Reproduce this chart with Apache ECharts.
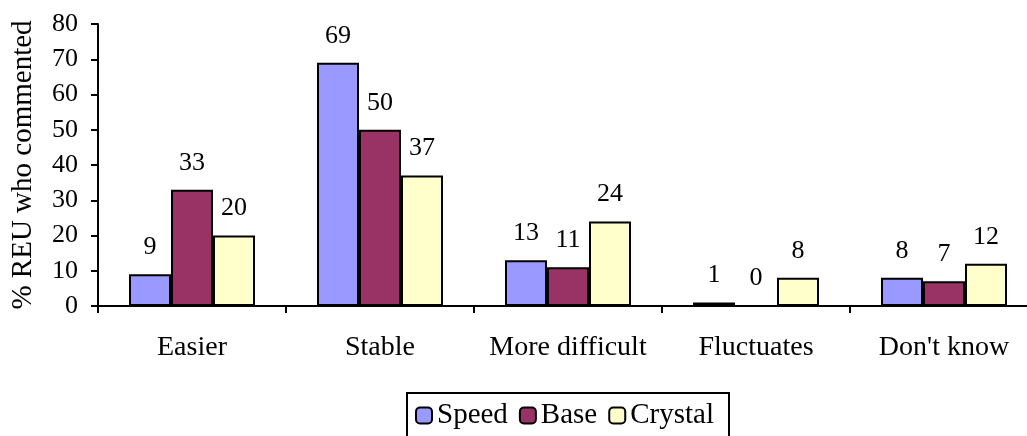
<!DOCTYPE html>
<html>
<head>
<meta charset="utf-8">
<script src="https://cdn.jsdelivr.net/npm/echarts@6/dist/echarts.min.js"></script>
<style>
html,body{margin:0;padding:0;background:#fff;overflow:hidden;}
#chart{width:1040px;height:436px;}
</style>
</head>
<body>
<div id="chart"></div>
<script>
const categories = ["Easier", "Stable", "More difficult", "Fluctuates", "Don't know"];
const speed = [9, 69, 13, 1, 8];
const base = [33, 50, 11, 0, 7];
const crystal = [20, 37, 24, 8, 12];
const seriesNames = ["Speed", "Base", "Crystal"];
const yTitle = "% REU who commented";

const FONT = "'Liberation Serif', 'Times New Roman', serif";
const colors = ["#9999FF", "#993366", "#FFFFCC"];
const chart = echarts.init(document.getElementById('chart'), null, {renderer: 'canvas'});

function mk(name, data, color) {
  return {
    name: name,
    type: 'bar',
    data: data,
    barWidth: 42,
    barGap: '0%',
    itemStyle: {color: color, borderColor: '#000', borderWidth: 2},
    label: {
      show: true, position: 'top', distance: 14,
      color: '#000', fontFamily: FONT, fontSize: 26
    },
    emphasis: {disabled: true}
  };
}

chart.setOption({
  animation: false,
  backgroundColor: '#fff',
  grid: {left: 98, top: 24, height: 282, width: 940, containLabel: false},
  legend: {
    left: 407, top: 393,
    data: seriesNames,
    itemWidth: 16, itemHeight: 16, itemGap: 11,
    padding: [8, 15, 20, 8],
    borderColor: '#000', borderWidth: 2,
    backgroundColor: '#fff',
    textStyle: {fontFamily: FONT, fontSize: 29, color: '#000'}
  },
  xAxis: {
    type: 'category',
    data: categories,
    axisLine: {lineStyle: {color: '#000', width: 2}},
    axisTick: {show: true, interval: 0, length: 7, lineStyle: {color: '#000', width: 2}},
    axisLabel: {color: '#000', fontFamily: FONT, fontSize: 28, margin: 28, interval: 0}
  },
  yAxis: {
    type: 'value',
    min: 0, max: 80, interval: 10,
    name: yTitle,
    nameLocation: 'middle',
    nameGap: 60,
    nameRotate: 90,
    nameTextStyle: {color: '#000', fontFamily: FONT, fontSize: 29},
    axisLine: {show: true, lineStyle: {color: '#000', width: 2}},
    axisTick: {show: true, inside: false, length: 7, lineStyle: {color: '#000', width: 2}},
    axisLabel: {color: '#000', fontFamily: FONT, fontSize: 26, margin: 20},
    splitLine: {show: false}
  },
  series: [mk(seriesNames[0], speed, colors[0]), mk(seriesNames[1], base, colors[1]), mk(seriesNames[2], crystal, colors[2])]
});
</script>
</body>
</html>
